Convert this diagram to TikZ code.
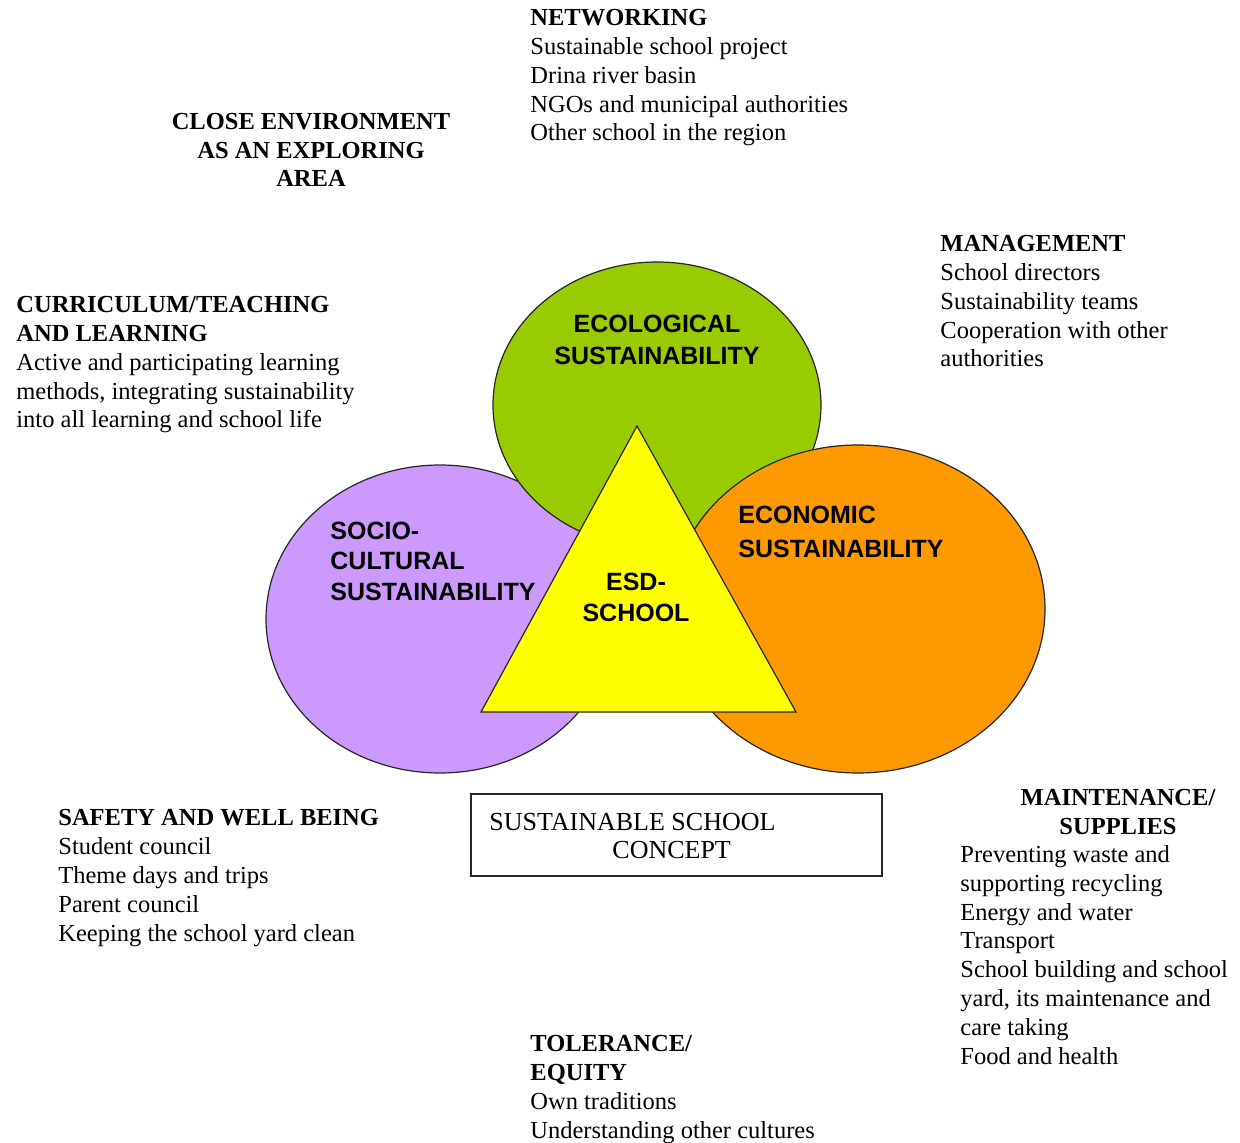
\documentclass[tikz,border=0pt]{standalone}
\usepackage{fontspec}
\setmainfont{Liberation Serif}
\setsansfont{Liberation Sans}
\usetikzlibrary{shapes.geometric}
\definecolor{ecogreen}{HTML}{99CC00}
\definecolor{socpurple}{HTML}{CC99FF}
\definecolor{econorange}{HTML}{FF9900}
\definecolor{esdyellow}{HTML}{FFFF00}
\tikzset{
  blob/.style={ellipse, draw=black!85, line width=0.6pt, inner sep=0pt},
  txt/.style={font=\fontsize{12.25pt}{14.4pt}\selectfont, inner sep=0pt, align=left, anchor=base west},
  ctxt/.style={font=\fontsize{12.25pt}{14.4pt}\selectfont\bfseries, inner sep=0pt, align=center, anchor=base},
  lbl/.style={font=\fontsize{12.5pt}{16pt}\selectfont\sffamily\bfseries, inner sep=0pt},
}
\begin{document}
\begin{tikzpicture}[x=0.5pt,y=-0.5pt]
\useasboundingbox (0,0) rectangle (1240,1143);
% circles
\node[blob, fill=socpurple, minimum width=174pt, minimum height=154pt] (soc) at (440,619) {};
\node[blob, fill=ecogreen, minimum width=164pt, minimum height=143pt] (eco) at (657,405) {};
\node[blob, fill=econorange, minimum width=187pt, minimum height=164pt] (econ) at (858,609) {};
% triangle
\coordinate (ta) at (637,426);
\coordinate (tl) at (481,712);
\coordinate (tr) at (796,712);
\draw[fill=esdyellow, draw=black!85, line width=0.6pt] (ta) -- (tl) -- (tr) -- cycle;
% circle labels (anchored at the baseline of the last line)
\node[lbl, align=center, anchor=base, font=\fontsize{12.5pt}{16pt}\selectfont\sffamily\bfseries] (ecol) at (657,365) {ECOLOGICAL\\SUSTAINABILITY};
\node[lbl, align=left, anchor=base west, font=\fontsize{12.5pt}{15.25pt}\selectfont\sffamily\bfseries] (socl) at (330,600) {SOCIO-\\CULTURAL\\SUSTAINABILITY};
\node[lbl, align=left, anchor=base west, font=\fontsize{12.5pt}{17pt}\selectfont\sffamily\bfseries] (econl) at (738,557) {ECONOMIC\\SUSTAINABILITY};
\node[lbl, align=center, anchor=base, font=\fontsize{12.5pt}{15.5pt}\selectfont\sffamily\bfseries] (esd) at (636,621) {ESD-\\SCHOOL};
% concept box
\node[draw=black!85, line width=0.8pt, minimum width=205.5pt, minimum height=41pt, inner sep=0pt] (box) at (676.5,835) {};
\node[txt, font=\fontsize{13pt}{14.2pt}\selectfont] (boxt) at (489,830) {SUSTAINABLE SCHOOL};
\node[txt, font=\fontsize{13pt}{14.2pt}\selectfont] (boxt2) at (612,858) {CONCEPT};
% text blocks (anchored at the baseline of the last line)
\node[txt] (net) at (530,141) {\textbf{NETWORKING}\\Sustainable school project\\Drina river basin\\NGOs and municipal authorities\\Other school in the region};
\node[ctxt] (close) at (311,187) {CLOSE ENVIRONMENT\\AS AN EXPLORING\\AREA};
\node[txt] (mgmt) at (940,367) {\textbf{MANAGEMENT}\\School directors\\Sustainability teams\\Cooperation with other\\authorities};
\node[txt] (curr) at (16,428) {\textbf{CURRICULUM/TEACHING}\\\textbf{AND LEARNING}\\Active and participating learning\\methods, integrating sustainability\\into all learning and school life};
\node[txt] (safe) at (58,941) {\textbf{SAFETY AND WELL BEING}\\Student council\\Theme days and trips\\Parent council\\Keeping the school yard clean};
\node[ctxt] (mainth) at (1118,834) {MAINTENANCE/\\SUPPLIES};
\node[txt] (maint) at (960,1064) {Preventing waste and\\supporting recycling\\Energy and water\\Transport\\School building and school\\yard, its maintenance and\\care taking\\Food and health};
\node[txt] (tol) at (530,1138) {\textbf{TOLERANCE/}\\\textbf{EQUITY}\\Own traditions\\Understanding other cultures};
\end{tikzpicture}
\end{document}
